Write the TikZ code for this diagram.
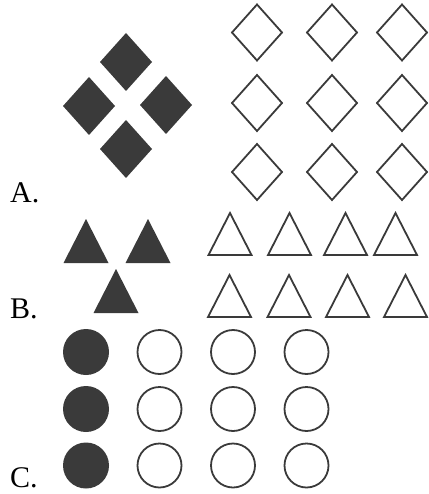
\documentclass[tikz,border=0pt]{standalone}
\usepackage{fontspec}
\setmainfont{Liberation Serif}
\usepackage{tikz}
\definecolor{darkgrey}{HTML}{3A3A3A}

\begin{document}
\begin{tikzpicture}[x=1pt, y=-1pt,
    solidshape/.style={fill=darkgrey},
    openshape/.style={draw=darkgrey, line width=1.8pt},
    optionlabel/.style={anchor=base west, inner sep=0pt, font=\fontsize{30}{32}\selectfont}
  ]
  \useasboundingbox (0,0) rectangle (428,494);

  % option A
  \foreach \x/\y in {126/62, 89/106, 166/105, 126/149}
    \fill[solidshape] (\x-26,\y) -- (\x,\y-29) -- (\x+26,\y) -- (\x,\y+29) -- cycle;
  \foreach \x in {257, 332, 402}
    \foreach \y in {32.5, 103, 172}
      \draw[openshape] (\x-25,\y) -- (\x,\y-28) -- (\x+25,\y) -- (\x,\y+28) -- cycle;
  \node[optionlabel] (labelA) at (10,202) {A.};

  % option B
  \foreach \x/\y in {86/219, 148/219, 116/269}
    \fill[solidshape] (\x,\y) -- (\x+22.5,\y+44) -- (\x-22.5,\y+44) -- cycle;
  \foreach \x in {230, 289.5, 345.5, 395.5}
    \draw[openshape] (\x,213) -- (\x+21.5,255) -- (\x-21.5,255) -- cycle;
  \foreach \x in {229.5, 289, 347.5, 405.5}
    \draw[openshape] (\x,275) -- (\x+21.5,317) -- (\x-21.5,317) -- cycle;
  \node[optionlabel] (labelB) at (10,318) {B.};

  % option C
  \foreach \y in {352, 409, 465.5} {
    \fill[solidshape] (86,\y) circle (23);
    \foreach \x in {159.5, 233, 306.5}
      \draw[openshape] (\x,\y) circle (22);
  }
  \node[optionlabel] (labelC) at (10,487) {C.};
\end{tikzpicture}
\end{document}
